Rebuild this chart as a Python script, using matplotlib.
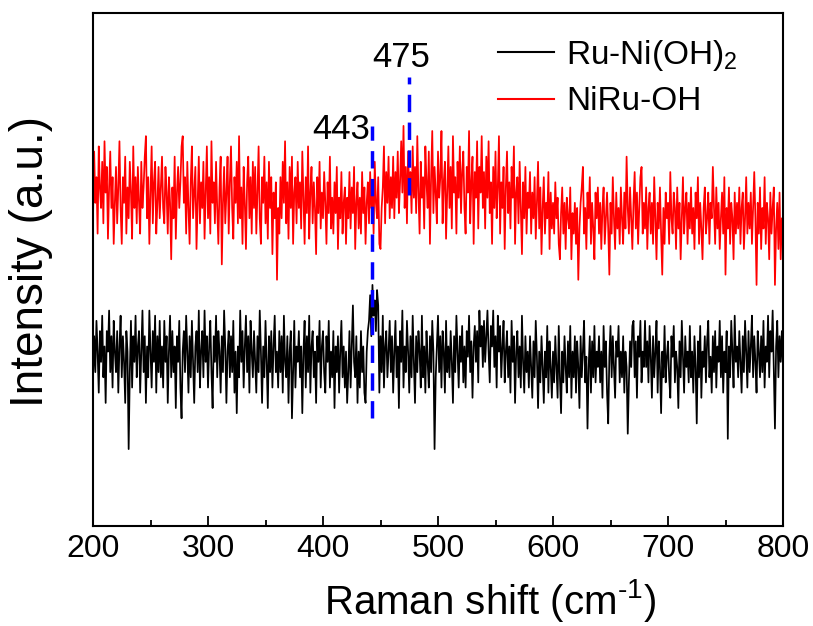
import matplotlib
matplotlib.use('Agg')
import matplotlib.pyplot as plt
from matplotlib.ticker import MultipleLocator

plt.rcParams['font.family'] = ['Liberation Sans', 'DejaVu Sans']
plt.rcParams['mathtext.fontset'] = 'custom'
plt.rcParams['mathtext.rm'] = 'Liberation Sans'

# Raman shift grid (cm-1), 1 cm-1 step
shift = list(range(200, 801))

# NiRu-OH spectrum (offset upwards)
niru_oh = [
    60, 73, 63, 68, 57, 74, 66, 62, 71, 59, 75, 65, 70, 56, 66, 73, 62, 68, 55, 63,
    70, 59, 66, 75, 62, 55, 68, 63, 72, 57, 66, 60, 71, 65, 56, 74, 62, 68, 59, 70,
    63, 57, 71, 62, 66, 72, 76, 60, 68, 55, 65, 74, 59, 67, 71, 57, 63, 70, 60, 66,
    72, 62, 59, 70, 65, 57, 68, 63, 52, 66, 60, 72, 56, 65, 70, 62, 67, 74, 76, 63,
    68, 57, 71, 62, 55, 67, 74, 60, 65, 70, 54, 63, 72, 59, 67, 62, 71, 56, 65, 74,
    60, 68, 57, 75, 63, 67, 59, 71, 62, 55, 66, 72, 51, 63, 70, 59, 65, 72, 57, 67,
    74, 62, 56, 68, 63, 71, 59, 76, 60, 66, 55, 70, 63, 54, 67, 72, 60, 68, 57, 71,
    62, 70, 57, 65, 74, 60, 55, 68, 63, 72, 59, 67, 56, 71, 62, 68, 53, 65, 60, 67,
    48, 62, 57, 68, 60, 71, 63, 75, 59, 67, 56, 70, 62, 72, 55, 65, 68, 59, 71, 62,
    67, 58, 73, 64, 55, 68, 61, 74, 56, 65, 70, 59, 67, 62, 53, 68, 61, 71, 58, 65,
    60, 69, 63, 55, 67, 61, 72, 58, 64, 57, 67, 61, 70, 54, 64, 60, 69, 57, 63, 66,
    55, 64, 60, 69, 58, 66, 61, 70, 54, 63, 67, 58, 64, 57, 69, 61, 66, 55, 63, 67,
    59, 69, 62, 66, 57, 71, 63, 60, 68, 55, 54, 62, 66, 74, 59, 69, 63, 72, 60, 68,
    62, 72, 60, 69, 64, 73, 61, 67, 75, 65, 78, 62, 70, 59, 73, 65, 69, 61, 74, 64,
    70, 61, 76, 65, 57, 71, 64, 68, 58, 74, 67, 62, 73, 55, 68, 77, 61, 70, 65, 59,
    73, 64, 68, 77, 59, 67, 71, 56, 65, 74, 62, 70, 58, 76, 65, 68, 57, 71, 64, 74,
    61, 69, 73, 62, 57, 70, 65, 77, 59, 67, 72, 55, 69, 64, 75, 58, 70, 65, 76, 62,
    69, 58, 72, 64, 75, 61, 67, 55, 70, 62, 73, 60, 66, 76, 57, 67, 62, 70, 54, 66,
    73, 61, 67, 58, 70, 64, 74, 55, 65, 68, 59, 71, 62, 53, 67, 60, 70, 57, 65, 62,
    69, 57, 65, 60, 68, 56, 63, 71, 58, 66, 53, 62, 68, 57, 63, 60, 69, 54, 65, 58,
    63, 57, 67, 60, 64, 55, 52, 61, 66, 57, 63, 54, 64, 60, 58, 66, 52, 61, 57, 63,
    55, 62, 48, 58, 63, 66, 70, 57, 62, 54, 65, 60, 68, 55, 63, 58, 52, 65, 60, 66,
    57, 63, 54, 62, 66, 55, 60, 65, 58, 49, 63, 57, 68, 60, 54, 65, 58, 62, 55, 66,
    60, 55, 65, 58, 72, 62, 57, 66, 60, 54, 63, 69, 58, 65, 55, 62, 68, 70, 57, 63,
    58, 66, 54, 62, 65, 57, 63, 55, 68, 60, 52, 63, 58, 66, 57, 49, 62, 55, 65, 60,
    63, 55, 69, 60, 57, 65, 62, 54, 66, 58, 63, 52, 60, 68, 57, 62, 65, 55, 63, 58,
    66, 57, 62, 54, 65, 60, 68, 55, 63, 58, 52, 62, 66, 57, 60, 65, 55, 63, 60, 70,
    62, 55, 66, 58, 63, 54, 60, 65, 57, 68, 49, 62, 58, 66, 55, 63, 60, 52, 65, 57,
    63, 58, 66, 55, 62, 65, 54, 60, 68, 57, 63, 58, 65, 55, 62, 69, 60, 47, 63, 57,
    66, 54, 62, 58, 68, 55, 63, 60, 52, 65, 57, 62, 66, 47, 58, 63, 54, 65, 52, 60,
    57]

# Ru-Ni(OH)2 spectrum
ru_nioh2 = [
    29, 37, 30, 40, 34, 26, 38, 32, 41, 29, 35, 24, 38, 34, 42, 30, 37, 27, 40, 34,
    30, 38, 26, 35, 41, 29, 37, 32, 24, 38, 34, 15, 30, 40, 27, 37, 32, 41, 29, 35,
    38, 26, 34, 42, 30, 37, 24, 35, 29, 42, 34, 27, 38, 32, 41, 26, 37, 30, 40, 29,
    35, 27, 40, 32, 37, 24, 34, 41, 29, 38, 30, 35, 23, 37, 32, 40, 27, 21, 34, 38,
    30, 41, 34, 26, 37, 29, 40, 32, 24, 35, 38, 30, 42, 27, 34, 38, 29, 42, 32, 37,
    27, 35, 40, 30, 23, 37, 32, 41, 29, 38, 34, 26, 37, 30, 42, 35, 24, 34, 38, 29,
    37, 30, 40, 26, 34, 22, 35, 29, 42, 32, 38, 27, 35, 41, 30, 37, 26, 40, 34, 29,
    38, 32, 26, 37, 30, 42, 34, 24, 35, 29, 40, 32, 23, 37, 30, 38, 27, 35, 41, 30,
    34, 27, 38, 30, 37, 26, 41, 32, 29, 37, 24, 34, 38, 21, 30, 40, 27, 35, 32, 38,
    29, 35, 22, 34, 40, 27, 37, 30, 41, 26, 35, 38, 29, 34, 24, 37, 32, 40, 27, 35,
    38, 30, 26, 37, 32, 40, 27, 34, 29, 38, 23, 35, 30, 37, 26, 34, 40, 29, 35, 27,
    34, 24, 30, 38, 27, 35, 43, 32, 29, 37, 24, 34, 27, 38, 30, 35, 26, 24, 34, 38,
    40, 45, 37, 47, 41, 44, 38, 46, 43, 26, 37, 30, 41, 27, 35, 38, 29, 34, 40, 30,
    37, 26, 34, 40, 29, 35, 23, 38, 32, 42, 27, 35, 30, 40, 34, 26, 37, 29, 41, 32,
    24, 37, 30, 38, 34, 27, 41, 29, 35, 26, 38, 32, 27, 37, 30, 40, 34, 15, 29, 35,
    41, 30, 37, 27, 38, 34, 26, 40, 30, 35, 29, 38, 32, 24, 37, 30, 41, 34, 27, 37,
    32, 39, 28, 35, 27, 38, 33, 41, 30, 36, 25, 35, 39, 32, 38, 28, 42, 35, 39, 31,
    40, 32, 37, 42, 34, 28, 39, 35, 42, 31, 37, 27, 41, 34, 39, 29, 35, 40, 28, 34,
    38, 29, 35, 26, 40, 32, 37, 24, 34, 38, 29, 35, 27, 41, 32, 26, 37, 30, 34, 27,
    37, 31, 25, 36, 29, 40, 33, 23, 34, 28, 37, 31, 24, 34, 29, 39, 26, 36, 31, 25,
    34, 28, 37, 31, 25, 39, 29, 22, 34, 28, 37, 31, 26, 36, 29, 39, 25, 34, 29, 37,
    26, 36, 31, 23, 37, 29, 34, 40, 28, 33, 19, 31, 37, 26, 36, 29, 39, 28, 34, 31,
    37, 28, 34, 25, 39, 31, 36, 26, 20, 33, 39, 29, 37, 31, 25, 36, 33, 39, 28, 34,
    29, 37, 26, 34, 31, 18, 28, 36, 31, 39, 40, 29, 36, 25, 37, 33, 40, 28, 34, 31,
    40, 31, 36, 28, 39, 33, 25, 37, 29, 34, 40, 26, 36, 31, 22, 34, 29, 39, 28, 33,
    36, 29, 25, 37, 33, 39, 28, 34, 31, 23, 36, 29, 40, 33, 26, 37, 31, 34, 28, 39,
    29, 34, 26, 37, 31, 20, 36, 29, 39, 25, 34, 31, 37, 28, 36, 40, 29, 33, 26, 37,
    30, 38, 27, 35, 32, 40, 29, 37, 26, 34, 30, 38, 17, 35, 29, 40, 34, 27, 41, 32,
    35, 29, 38, 32, 26, 37, 30, 40, 34, 27, 38, 30, 35, 41, 29, 37, 32, 26, 38, 34,
    29, 37, 30, 40, 27, 35, 32, 41, 29, 38, 34, 42, 30, 19, 35, 40, 29, 37, 32, 38,
    31]

# marked peaks, their guide-line spans and label positions
peaks = [443, 475]
peak_spans = [(21, 78), (64.5, 87.5)]
peak_text_x = [416, 468]
peak_text_y = [77.2, 91.4]

fig = plt.figure(figsize=(8.13, 6.26), dpi=100)
ax = fig.add_axes([0.1144, 0.1597, 0.8487, 0.8195])

ax.plot(shift, ru_nioh2, color='black', lw=1.25, label='Ru-Ni(OH)$_2$')
ax.plot(shift, niru_oh, color='#ff0000', lw=1.25, label='NiRu-OH')

for pk, (y0, y1), tx, ty in zip(peaks, peak_spans, peak_text_x, peak_text_y):
    ax.plot([pk, pk], [y0, y1], color='#0000ff', lw=2.5, ls=(0, (5, 3)))
    ax.text(tx, ty, str(pk), fontsize=25, ha='center', va='center')

ax.set_xlim(200, 800)
ax.set_ylim(0, 100)
ax.xaxis.set_major_locator(MultipleLocator(100))
ax.xaxis.set_minor_locator(MultipleLocator(50))
ax.tick_params(axis='x', which='major', direction='in', length=7, width=1.3,
               labelsize=23, pad=6)
ax.tick_params(axis='x', which='minor', direction='in', length=4, width=1.3)
ax.set_yticks([])
for sp in ax.spines.values():
    sp.set_linewidth(1.5)

ax.set_xlabel('Raman shift (cm$^{\\text{-1}}$)', fontsize=29)
ax.xaxis.set_label_coords(0.575, -0.1)
ax.set_ylabel('Intensity (a.u.)', fontsize=33)
ax.yaxis.set_label_coords(-0.058, 0.515)

leg = ax.legend(loc='upper left', bbox_to_anchor=(0.543, 1.01), frameon=False,
                fontsize=24, handlelength=1.7, handletextpad=0.35,
                labelspacing=0.4)
for ln in leg.get_lines():
    ln.set_linewidth(1.5)

fig.savefig('out.png', dpi=100)
